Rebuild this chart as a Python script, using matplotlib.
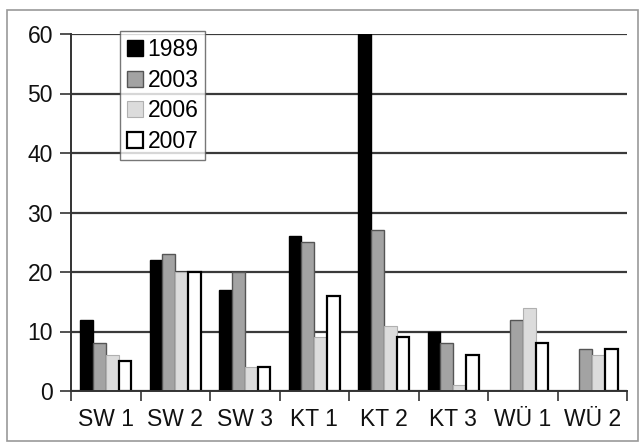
import matplotlib
matplotlib.use("Agg")
import matplotlib.pyplot as plt
from matplotlib.patches import Rectangle
import numpy as np

categories = ["SW 1", "SW 2", "SW 3", "KT 1", "KT 2", "KT 3", "WÜ 1", "WÜ 2"]
years = ["1989", "2003", "2006", "2007"]
v1989 = [12, 22, 17, 26, 60, 10, 0, 0]
v2003 = [8, 23, 20, 25, 27, 8, 12, 7]
v2006 = [6, 20, 4, 9, 11, 1, 14, 6]
v2007 = [5, 20, 4, 16, 9, 6, 8, 7]
yticks = [0, 10, 20, 30, 40, 50, 60]

series = [v1989, v2003, v2006, v2007]
faces = ["#000000", "#a3a3a3", "#dcdcdc", "#ffffff"]
edges = ["#000000", "#555555", "#b0b0b0", "#000000"]
lws = [1.0, 1.0, 0.8, 1.6]

plt.rcParams["font.family"] = ["Liberation Sans", "DejaVu Sans"]
fig = plt.figure(figsize=(6.43, 4.46), dpi=100)
fig.patch.set_facecolor("white")
fig.patches.append(Rectangle((7/643, 5/446), 631/643, 431/446, transform=fig.transFigure,
                             fill=False, edgecolor="#999999", linewidth=1.2))
ax = fig.add_axes([71/643, 55/446, 556/643, 357/446])

x = np.arange(len(categories))
w = 0.185
for k, (vals, fc, ec, lw, lab) in enumerate(zip(series, faces, edges, lws, years)):
    ax.bar(x + (k - 1.5) * w, vals, width=w, color=fc, edgecolor=ec, linewidth=lw,
           label=lab, zorder=3)

ax.set_xlim(-0.5, len(categories) - 0.5)
ax.set_ylim(0, 60)
ax.set_yticks(yticks)
ax.set_yticklabels([str(t) for t in yticks], fontsize=16.5, color="#111111")
ax.set_xticks(x)
ax.set_xticklabels(categories, fontsize=16.5, color="#111111")
ax.set_xticks(np.arange(-0.5, len(categories)), minor=True)
ax.tick_params(axis="x", which="major", length=0, pad=12)
ax.tick_params(axis="x", which="minor", length=7, width=1.2, color="#333333", direction="out")
ax.tick_params(axis="y", length=8, width=1.2, color="#333333", direction="out", pad=5)
ax.yaxis.grid(True, color="#3a3a3a", linewidth=1.6, zorder=1)
ax.set_axisbelow(True)
for s in ["top", "right"]:
    ax.spines[s].set_visible(False)
for s in ["left", "bottom"]:
    ax.spines[s].set_color("#333333")
    ax.spines[s].set_linewidth(1.4)
    ax.spines[s].set_zorder(4)

leg = ax.legend(loc="upper left", bbox_to_anchor=(0.088, 1.008), borderaxespad=0,
                fontsize=16.5, frameon=True, fancybox=False, handlelength=0.7,
                handleheight=0.7, handletextpad=0.2, labelspacing=0.33,
                borderpad=0.3)
leg.get_frame().set_edgecolor("#555555")
leg.get_frame().set_linewidth(1.0)
leg.set_zorder(5)

fig.savefig("out.png", dpi=100)
